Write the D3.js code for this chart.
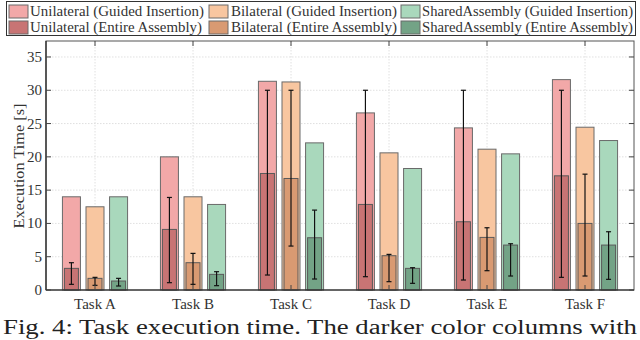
<!DOCTYPE html>
<html><head><meta charset="utf-8">
<script src="https://cdn.jsdelivr.net/npm/d3@7"></script>
<style>body{margin:0;background:#fff}svg{display:block}
svg text{font-family:"Liberation Serif","DejaVu Serif",serif;}</style>
</head><body>
<svg id="c" width="640" height="340"></svg>
<script>
const tasks = ["Task A","Task B","Task C","Task D","Task E","Task F"];
const groups = ["Unilateral","Bilateral","SharedAssembly"];
const guided = {
  Unilateral:[14.0,20.0,31.35,26.6,24.35,31.6],
  Bilateral:[12.5,14.0,31.25,20.6,21.15,24.45],
  SharedAssembly:[14.0,12.85,22.1,18.25,20.45,22.45]
};
const entire = {
  Unilateral:[3.25,9.1,17.5,12.85,10.25,17.15],
  Bilateral:[1.75,4.1,16.75,5.15,7.9,10.0],
  SharedAssembly:[1.35,2.35,7.85,3.25,6.75,6.75]
};
const errHigh = {
  Unilateral:[4.1,13.9,30.0,30.0,30.0,30.0],
  Bilateral:[1.9,5.5,30.0,5.35,9.35,17.4],
  SharedAssembly:[1.75,2.75,12.0,3.35,6.95,8.75]
};
const errLow = {
  Unilateral:[0.85,1.1,2.25,2.0,1.5,1.9],
  Bilateral:[0.7,0.85,6.6,1.25,2.9,2.1],
  SharedAssembly:[0.6,0.65,1.65,1.0,2.1,1.6]
};
const yTicks = [0,5,10,15,20,25,30,35];
const lightColors = ["#f2a8a8","#f8c6a0","#a9d8bc"];
const darkColors = ["#c87474","#d99a72","#73a386"];
const legendLabels = [
  "Unilateral (Guided Insertion)","Bilateral (Guided Insertion)","SharedAssembly (Guided Insertion)",
  "Unilateral (Entire Assembly)","Bilateral (Entire Assembly)","SharedAssembly (Entire Assembly)"
];
const caption = "Fig. 4: Task execution time. The darker color columns with";

const svg = d3.select("#c");
const L=46, R=634, T=41, B=290;
const x = d3.scaleLinear().domain([0.5,6.5]).range([L,R]);
const y = d3.scaleLinear().domain([0,37.4]).range([B,T]);
const off = d3.scaleBand().domain(groups).range([-33,33]).paddingInner(0.2);

// grid
const g = svg.append("g");
g.selectAll("line.gy").data(yTicks.filter(d=>d>0)).join("line")
  .attr("x1",L).attr("x2",R).attr("y1",d=>y(d)).attr("y2",d=>y(d))
  .attr("stroke","#d8d8d8").attr("stroke-width",0.8).attr("stroke-dasharray","1.5,1.5");
g.selectAll("line.gx").data(tasks).join("line")
  .attr("y1",T).attr("y2",B).attr("x1",(d,i)=>x(i+1)).attr("x2",(d,i)=>x(i+1))
  .attr("stroke","#d8d8d8").attr("stroke-width",0.8).attr("stroke-dasharray","1.5,1.5");

// bars
groups.forEach((gr,gi)=>{
  const cx = i => x(i+1) + off(gr) + off.bandwidth()/2;
  const lw = 18, dw = 14;
  svg.append("g").selectAll("rect").data(guided[gr]).join("rect")
    .attr("x",(d,i)=>cx(i)-lw/2).attr("width",lw)
    .attr("y",d=>y(d)).attr("height",d=>y(0)-y(d))
    .attr("fill",lightColors[gi]).attr("stroke","#6a6a6a").attr("stroke-width",1);
  svg.append("g").selectAll("rect").data(entire[gr]).join("rect")
    .attr("x",(d,i)=>cx(i)-dw/2).attr("width",dw)
    .attr("y",d=>y(d)).attr("height",d=>y(0)-y(d))
    .attr("fill",darkColors[gi]).attr("stroke","#5a5a5a").attr("stroke-width",1);
  const eg = svg.append("g").attr("stroke","#111").attr("stroke-width",1.2);
  tasks.forEach((t,i)=>{
    const c = cx(i), hi=y(errHigh[gr][i]), lo=y(errLow[gr][i]);
    eg.append("line").attr("x1",c).attr("x2",c).attr("y1",hi).attr("y2",lo);
    eg.append("line").attr("x1",c-2.5).attr("x2",c+2.5).attr("y1",hi).attr("y2",hi);
    eg.append("line").attr("x1",c-2.5).attr("x2",c+2.5).attr("y1",lo).attr("y2",lo);
  });
});

// frame & ticks
svg.append("rect").attr("x",L).attr("y",T).attr("width",R-L).attr("height",B-T)
  .attr("fill","none").attr("stroke","#555").attr("stroke-width",1);
svg.append("line").attr("x1",L).attr("x2",R).attr("y1",B).attr("y2",B).attr("stroke","#222").attr("stroke-width",1.2);
svg.append("line").attr("x1",L).attr("x2",L).attr("y1",T).attr("y2",B).attr("stroke","#222").attr("stroke-width",1.2);
const tk = svg.append("g").attr("stroke","#444").attr("stroke-width",1);
yTicks.forEach(v=>{
  tk.append("line").attr("x1",L).attr("x2",L+5).attr("y1",y(v)).attr("y2",y(v));
  tk.append("line").attr("x1",R).attr("x2",R-5).attr("y1",y(v)).attr("y2",y(v));
});
tasks.forEach((t,i)=>{
  tk.append("line").attr("x1",x(i+1)).attr("x2",x(i+1)).attr("y1",T).attr("y2",T+5);
  tk.append("line").attr("x1",x(i+1)).attr("x2",x(i+1)).attr("y1",B).attr("y2",B-5);
});

// axis labels
svg.append("g").selectAll("text").data(yTicks).join("text")
  .attr("x",L-4).attr("y",d=>y(d)+5).attr("text-anchor","end")
  .attr("font-size",15).attr("fill","#333").text(d=>d);
svg.append("g").selectAll("text").data(tasks).join("text")
  .attr("x",(d,i)=>x(i+1)).attr("y",B+19).attr("text-anchor","middle")
  .attr("font-size",15).attr("fill","#333").text(d=>d);
svg.append("text").attr("transform",`translate(24,166) rotate(-90)`)
  .attr("text-anchor","middle").attr("font-size",14).attr("fill","#333")
  .attr("textLength",125).attr("lengthAdjust","spacingAndGlyphs")
  .text("Execution Time [s]");

// legend
svg.append("rect").attr("x",6.5).attr("y",1.5).attr("width",629).attr("height",34)
  .attr("fill","#fff").attr("stroke","#333").attr("stroke-width",1);
const colX = [9,209,401], txtX=[30,231,422], txtW=[174,166,211];
legendLabels.forEach((lab,k)=>{
  const col=k%3, row=Math.floor(k/3);
  const cy = row===0?11:27;
  svg.append("rect").attr("x",colX[col]).attr("y",cy-6).attr("width",19).attr("height",13)
    .attr("fill",row===0?lightColors[col]:darkColors[col]).attr("stroke","#6a6a6a").attr("stroke-width",1);
  svg.append("text").attr("x",txtX[col]).attr("y",cy+5)
    .attr("font-size",15).attr("fill","#333").attr("textLength",txtW[col]-(row===1&&col===0?2:0)).attr("lengthAdjust","spacingAndGlyphs").text(lab);
});

// caption
svg.append("text").attr("x",3).attr("y",334).attr("font-size",20)
  .attr("fill","#222").attr("textLength",634).attr("lengthAdjust","spacingAndGlyphs").text(caption);
</script>
</body></html>
